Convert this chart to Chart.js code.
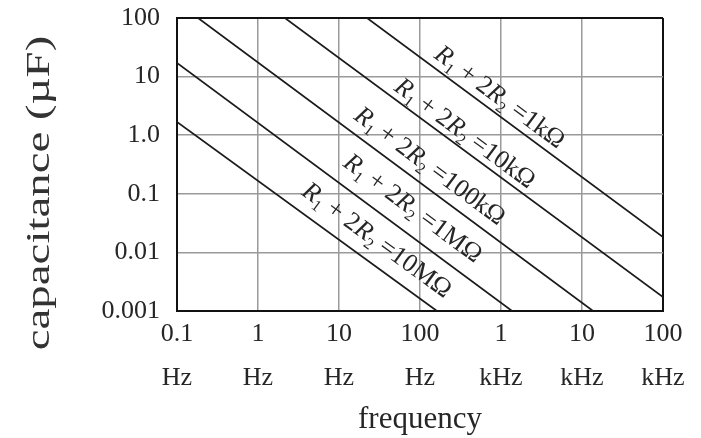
<!DOCTYPE html>
<html lang="en">
<head>
<meta charset="UTF-8" />
<title>capacitance vs frequency</title>
<script src="https://cdn.jsdelivr.net/npm/chart.js"></script>
<style>
  body { margin: 0; background: #fff; }
  #wrap { width: 701px; height: 438px; }
</style>
</head>
<body>
<div id="wrap"><canvas id="chart" width="701" height="438"></canvas></div>
<script>
// axis ticks
const freqTicks = [0.1, 1, 10, 100, 1000, 10000, 100000];
const freqLabels = [["0.1", "Hz"], ["1", "Hz"], ["10", "Hz"], ["100", "Hz"], ["1", "kHz"], ["10", "kHz"], ["100", "kHz"]];
const capTicks = [0.001, 0.01, 0.1, 1, 10, 100];
const capLabels = ["0.001", "0.01", "0.1", "1.0", "10", "100"];

// R1 + 2R2 for each line
const resistances = ["1k", "10k", "100k", "1M", "10M"];

// line end points (frequency in Hz, capacitance in µF)
const freq1k = [22.2, 100000];
const cap1k = [100, 0.0183];
const freq10k = [2.15, 100000];
const cap10k = [100, 0.00173];
const freq100k = [0.182, 13700];
const cap100k = [100, 0.001];
const freq1M = [0.1, 1370];
const cap1M = [17.1, 0.001];
const freq10M = [0.1, 162];
const cap10M = [1.68, 0.001];

// centre of each line's label
const labelFreq = [970, 360, 133, 82, 29.5];
const labelCap = [4.5, 1.09, 0.30, 0.057, 0.0163];

const serif = '"Liberation Serif", "Times New Roman", serif';
const ink = "#262626";

const lineFreqs = [freq1k, freq10k, freq100k, freq1M, freq10M];
const lineCaps = [cap1k, cap10k, cap100k, cap1M, cap10M];

const datasets = lineFreqs.map((fs, i) => ({
  label: "R1 + 2R2 = " + resistances[i] + "Ω",
  data: fs.map((f, j) => ({ x: f, y: lineCaps[i][j] })),
  showLine: true,
  borderColor: "#1a1a1a",
  borderWidth: 1.7,
  pointRadius: 0,
}));

// R₁ + 2R₂ =xxΩ written along a line
function drawLabel(ctx, value) {
  const size = 26;
  const parts = [
    { t: "R", it: true },
    { t: "1", sub: true },
    { t: " + 2" },
    { t: "R", it: true },
    { t: "2", sub: true },
    { t: " =" + value + "Ω" },
  ];
  const fontOf = (p) => (p.it ? "italic " : "") + (p.sub ? Math.round(size * 0.6) : size) + "px " + serif;
  let w = 0;
  parts.forEach((p) => {
    ctx.font = fontOf(p);
    p.w = ctx.measureText(p.t).width;
    w += p.w;
  });
  let xPos = -w / 2;
  const base = size * 0.3;
  ctx.textBaseline = "alphabetic";
  ctx.textAlign = "left";
  parts.forEach((p) => {
    ctx.font = fontOf(p);
    ctx.fillText(p.t, xPos, p.sub ? base + size * 0.2 : base);
    xPos += p.w;
  });
}

const labelPlugin = {
  id: "lineLabels",
  afterDatasetsDraw(chart) {
    const { ctx, scales } = chart;
    const x = scales.x, y = scales.y;
    ctx.save();
    ctx.fillStyle = ink;
    chart.data.datasets.forEach((ds, i) => {
      const a = ds.data[0], b = ds.data[ds.data.length - 1];
      const ang = Math.atan2(
        y.getPixelForValue(b.y) - y.getPixelForValue(a.y),
        x.getPixelForValue(b.x) - x.getPixelForValue(a.x)
      );
      ctx.save();
      ctx.translate(x.getPixelForValue(labelFreq[i]), y.getPixelForValue(labelCap[i]));
      ctx.rotate(ang);
      drawLabel(ctx, resistances[i]);
      ctx.restore();
    });
    // y axis title, tall and narrow like the original
    ctx.fillStyle = "#333";
    ctx.translate(40, 193);
    ctx.rotate(-Math.PI / 2);
    ctx.scale(1.42, 1);
    ctx.font = "33px " + serif;
    ctx.textAlign = "center";
    ctx.textBaseline = "middle";
    ctx.fillText("capacitance (µF)", 0, 0);
    ctx.restore();
  },
};

const edgeColor = (c, n) => (c.index === 0 || c.index === n - 1 ? "#111" : "#9a9a9a");
const edgeWidth = (c, n) => (c.index === 0 || c.index === n - 1 ? 2 : 1.5);

new Chart(document.getElementById("chart"), {
  type: "scatter",
  data: { datasets },
  options: {
    responsive: false,
    animation: false,
    layout: { padding: { top: 18, right: 38, bottom: 0, left: 0 } },
    plugins: { legend: { display: false }, tooltip: { enabled: false } },
    scales: {
      x: {
        type: "logarithmic",
        min: 0.1,
        max: 100000,
        afterBuildTicks: (s) => { s.ticks = freqTicks.map((v) => ({ value: v })); },
        afterFit: (s) => { s.height = 127; s.paddingLeft = 0; s.paddingRight = 0; },
        grid: {
          drawTicks: false,
          color: (c) => edgeColor(c, freqTicks.length),
          lineWidth: (c) => edgeWidth(c, freqTicks.length),
        },
        border: { color: "#111", width: 2 },
        ticks: {
          autoSkip: false,
          maxRotation: 0,
          padding: 1,
          color: ink,
          font: { family: serif, size: 26, lineHeight: 1.7 },
          callback: (v) => freqLabels[freqTicks.indexOf(v)],
        },
        title: {
          display: true,
          text: "frequency",
          color: ink,
          font: { family: serif, size: 31, lineHeight: 1.2 },
          padding: { top: 0, bottom: 0 },
        },
      },
      y: {
        type: "logarithmic",
        min: 0.001,
        max: 100,
        afterBuildTicks: (s) => { s.ticks = capTicks.map((v) => ({ value: v })); },
        afterFit: (s) => { s.width = 177; s.paddingTop = 0; s.paddingBottom = 0; },
        grid: {
          drawTicks: false,
          color: (c) => edgeColor(c, capTicks.length),
          lineWidth: (c) => edgeWidth(c, capTicks.length),
        },
        border: { color: "#111", width: 2 },
        ticks: {
          autoSkip: false,
          padding: 17,
          color: ink,
          font: { family: serif, size: 26 },
          callback: (v) => capLabels[capTicks.indexOf(v)],
        },
      },
    },
  },
  plugins: [labelPlugin],
});
</script>
</body>
</html>
